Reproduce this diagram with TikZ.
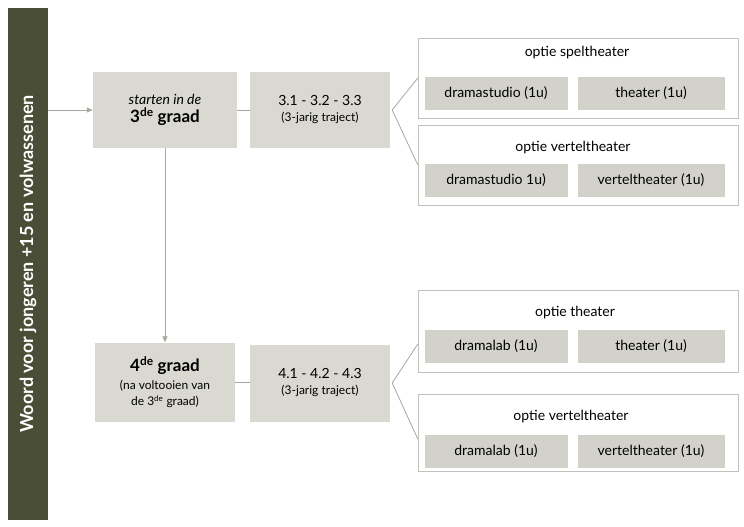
\documentclass[tikz,border=0pt]{standalone}
\usepackage{fontspec}
\setmainfont{Lato}
\usetikzlibrary{positioning,arrows.meta}
\definecolor{barolive}{HTML}{4B4E36}
\definecolor{boxgray}{HTML}{DAD9D1}
\definecolor{cellgray}{HTML}{D3D2CA}
\definecolor{linegray}{HTML}{A8A8A0}
\tikzset{
  stepbox/.style={fill=boxgray,minimum width=144pt,minimum height=76pt,align=center,inner sep=2pt},
  optbox/.style={draw=linegray!70,fill=white,minimum width=320pt,minimum height=80pt},
  cell/.style={fill=cellgray,minimum width=143pt,minimum height=33pt,font=\fontsize{14}{16}\selectfont},
  conn/.style={linegray,line width=0.8pt},
  tip/.style={-{Triangle[length=6pt,width=5pt]}}
}
\begin{document}
\begin{tikzpicture}[x=1pt,y=-1pt,font=\fontsize{14}{16}\selectfont]
\useasboundingbox (0,0) rectangle (744,527);
% side bar
\node[fill=barolive,minimum width=512pt,minimum height=40pt,text=white,rotate=90,
  font=\fontsize{18}{20}\selectfont\bfseries] (bar) at (28,264)
  {Woord voor jongeren +15 en volwassenen};
\coordinate (barout) at (48,110);

% steps
\node[stepbox] (start) at (165,110) {\textit{starten in de}\\[2pt]{\fontsize{17}{19}\selectfont\textbf{3\textsuperscript{de} graad}}};
\node[stepbox,minimum width=140pt] (traj3) at (320,110) {3.1 - 3.2 - 3.3\\{\fontsize{12}{14}\selectfont(3-jarig traject)}};
\node[stepbox,minimum width=140pt,minimum height=79pt] (graad4) at (165,382) {{\fontsize{17}{19}\selectfont\textbf{4\textsuperscript{de} graad}}\\[2pt]{\fontsize{12}{14}\selectfont(na voltooien van}\\{\fontsize{12}{14}\selectfont de 3\textsuperscript{de} graad)}};
\node[stepbox,minimum width=140pt,minimum height=77pt] (traj4) at (320,383) {4.1 - 4.2 - 4.3\\{\fontsize{12}{14}\selectfont(3-jarig traject)}};

% options
\node[optbox] (spel) at (578,78) {};
\node[optbox] (vert3) at (578,165) {};
\node[optbox,minimum height=82pt] (thea) at (578,331) {};
\node[optbox,minimum height=77pt] (vert4) at (578,433) {};

\node (spelt) at (577,53) {optie speltheater};
\node[cell] (ds1) at (496,93) {dramastudio (1u)};
\node[cell,minimum width=147pt] (th1) at (651,93) {theater (1u)};
\node (vert3t) at (573,148) {optie verteltheater};
\node[cell] (ds2) at (496,180) {dramastudio 1u)};
\node[cell,minimum width=147pt] (vt1) at (651,180) {verteltheater (1u)};
\node (theat) at (575,313) {optie theater};
\node[cell] (dl1) at (496,346) {dramalab (1u)};
\node[cell,minimum width=147pt] (th2) at (651,346) {theater (1u)};
\node (vert4t) at (571,417) {optie verteltheater};
\node[cell] (dl2) at (496,451) {dramalab (1u)};
\node[cell,minimum width=147pt] (vt2) at (651,451) {verteltheater (1u)};

% connectors
\draw[conn,tip] (barout) -- (start.west);
\draw[conn] (start) -- (traj3);
\draw[conn] (traj4) -- (graad4);
\draw[conn,tip] (start.south) -- (graad4.north);
\coordinate (fork3) at ([xshift=2pt]traj3.east);
\coordinate (fork4) at ([xshift=2pt]traj4.east);
\draw[conn] (spel.west) -- (fork3) -- (vert3.west);
\draw[conn] ([yshift=-13pt]thea.west) -- (fork4) -- ([yshift=-6pt]vert4.west);
\end{tikzpicture}
\end{document}
